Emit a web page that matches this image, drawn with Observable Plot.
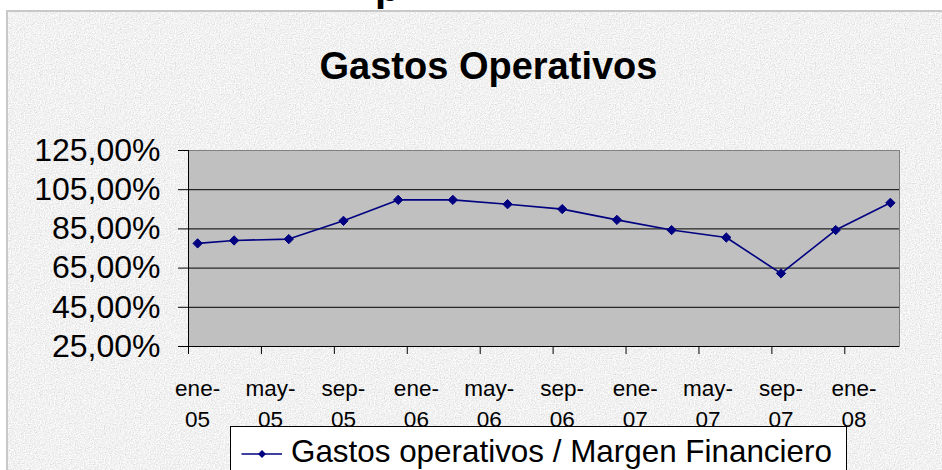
<!DOCTYPE html>
<html>
<head>
<meta charset="utf-8">
<script src="https://cdn.jsdelivr.net/npm/d3@7"></script>
<script src="https://cdn.jsdelivr.net/npm/@observablehq/plot@0.6"></script>
<style>
  html, body { margin: 0; padding: 0; background: #fff; }
  #wrap { position: relative; width: 942px; height: 470px; overflow: hidden; background: #fff; font-family: "Liberation Sans", Arial, sans-serif; }
  #frame { position: absolute; left: 6px; top: 10px; width: 960px; height: 480px; border: 2px solid #c8c8c8; box-sizing: border-box; }
  #cut { position: absolute; left: 370px; top: 0; width: 40px; height: 10px; overflow: hidden; }
  #cut span { position: absolute; left: 5px; top: -33px; font: bold 40px/40px "Liberation Sans", Arial, sans-serif; color: #000; }
  #title { position: absolute; left: 0; width: 977px; top: 47px; text-align: center; font: bold 38px/38px "Liberation Sans", Arial, sans-serif; color: #000; }
  #chart { position: absolute; left: 0; top: 0; }
  #legend { position: absolute; left: 230px; top: 426px; width: 617px; height: 80px; border: 1px solid #000; box-sizing: border-box; background: #fff; }
  #legend svg { position: absolute; left: 10px; top: 19px; }
  #legend .lbl { position: absolute; left: 60px; top: 9px; font: 31.4px/31px "Liberation Sans", Arial, sans-serif; color: #000; white-space: nowrap; }
</style>
</head>
<body>
<div id="wrap">
  <div id="frame"></div>
  <div id="cut"><span>p</span></div>
  <div id="title"></div>
  <div id="chart"></div>
  <div id="legend"></div>
</div>
<script>
// ---- data ----
const chartTitle = "Gastos Operativos";
const seriesName = "Gastos operativos / Margen Financiero";
const months = ["2005-01","2005-03","2005-06","2005-09","2005-12","2006-03","2006-06","2006-09","2006-12","2007-03","2007-06","2007-09","2007-12","2008-03"];
const ratios = [77.6, 79.1, 79.8, 89.1, 99.8, 99.8, 97.6, 95.1, 89.6, 84.4, 80.6, 62.3, 84.4, 98.3];
const tickLabels = ["ene-05","may-05","sep-05","ene-06","may-06","sep-06","ene-07","may-07","sep-07","ene-08"];
const yTicks = [25, 45, 65, 85, 105, 125];

// ---- helpers ----
const monthIndex = s => { const [y, m] = s.split("-").map(Number); return (y - 2005) * 12 + (m - 1); };
const data = months.map((m, i) => ({x: monthIndex(m) + 0.5, y: ratios[i]}));
const tickPos = tickLabels.map((d, i) => i * 4);
const labelData = tickLabels.map((d, i) => ({x: i * 4 + 0.5, t: d.replace("-", "-\n")}));
const fmtPct = d => d.toFixed(2).replace(".", ",") + "%";

// texture background
const noise = `<svg xmlns="http://www.w3.org/2000/svg" width="320" height="320"><filter id="n" x="0" y="0" width="100%" height="100%"><feTurbulence type="fractalNoise" baseFrequency="0.8" numOctaves="3" stitchTiles="stitch"/><feColorMatrix type="matrix" values="0.3 0.3 0.3 0 0.43  0.3 0.3 0.3 0 0.43  0.3 0.3 0.3 0 0.43  0 0 0 0 1"/></filter><rect width="320" height="320" filter="url(#n)"/></svg>`;
document.getElementById("frame").style.background = `url("data:image/svg+xml,${encodeURIComponent(noise)}")`;

document.getElementById("title").textContent = chartTitle;

const plot = Plot.plot({
  width: 942,
  height: 430,
  marginLeft: 188,
  marginRight: 43,
  marginTop: 150,
  marginBottom: 84,
  style: {background: "transparent", fontFamily: "'Liberation Sans', Arial, sans-serif", color: "#000", overflow: "visible"},
  x: {domain: [0, 39]},
  y: {domain: [25, 125]},
  marks: [
    Plot.frame({fill: "#c0c0c0", stroke: "#808080"}),
    Plot.ruleY([45, 65, 85, 105], {stroke: "#000", strokeWidth: 1}),
    Plot.ruleY([25], {stroke: "#000"}),
    Plot.ruleX([0], {stroke: "#000"}),
    Plot.axisY({ticks: yTicks, tickSize: 10, tickPadding: 18, fontSize: 32, tickFormat: fmtPct, label: null, stroke: "#000"}),
    Plot.axisX({ticks: tickPos, tickSize: 8, tickFormat: () => "", label: null, stroke: "#000"}),
    Plot.text(labelData, {x: "x", y: 25, text: "t", fontSize: 22.5, lineHeight: 1.38, lineAnchor: "top", dy: 27, fill: "#000"}),
    Plot.line(data, {x: "x", y: "y", stroke: "#000080", strokeWidth: 1.6}),
    Plot.dot(data, {x: "x", y: "y", symbol: "diamond2", r: 4.2, fill: "#000080", stroke: "#000080", strokeWidth: 1})
  ]
});
document.getElementById("chart").appendChild(plot);

// legend
const legend = document.getElementById("legend");
legend.innerHTML = `<svg width="42" height="16"><line x1="0.5" y1="8" x2="41" y2="8" stroke="#000080" stroke-width="1.6"/><polygon points="21,4 25,8 21,12 17,8" fill="#000080"/></svg><div class="lbl"></div>`;
legend.querySelector(".lbl").textContent = seriesName;
</script>
</body>
</html>
